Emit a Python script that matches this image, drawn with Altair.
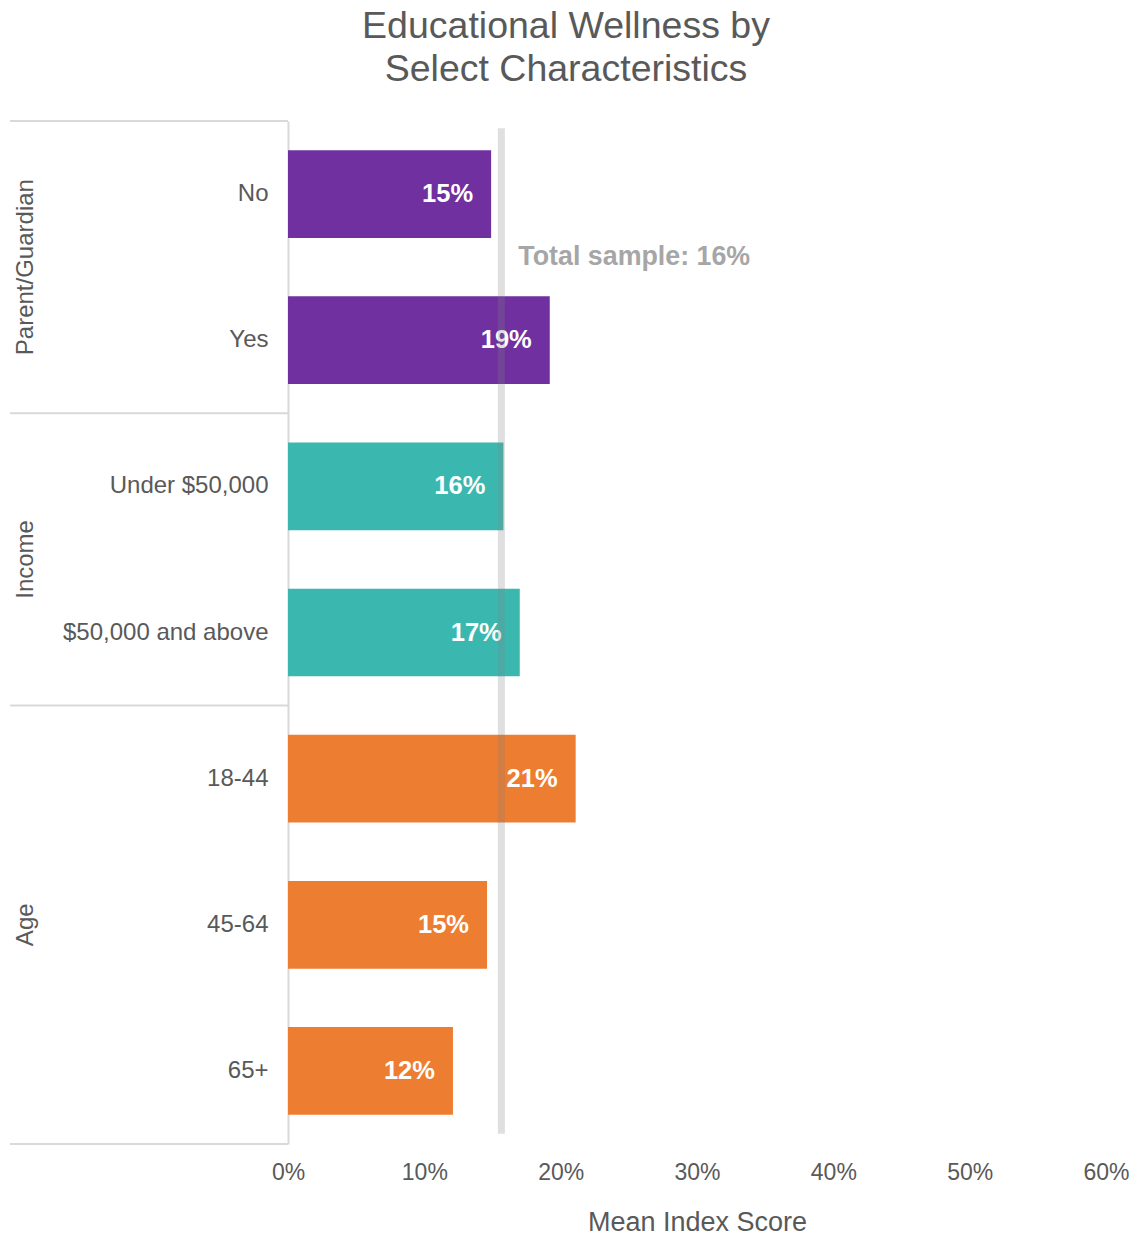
import altair as alt
import pandas as pd

categories = ["No", "Yes", "Under $50,000", "$50,000 and above", "18-44", "45-64", "65+"]
values = [14.9, 19.2, 15.8, 17.0, 21.1, 14.6, 12.1]
groups = ["Parent/Guardian", "Parent/Guardian", "Income", "Income", "Age", "Age", "Age"]
value_labels = ["15%", "19%", "16%", "17%", "21%", "15%", "12%"]

group_names = ["Parent/Guardian", "Income", "Age"]
group_colors = ["#7030A0", "#3AB8B0", "#ED7D31"]
group_centers = [1.0, 3.0, 5.5]          # in units of category slots
separators = [0, 2, 4, 7]                 # slot boundaries between groups

total_value = 15.65
total_label = "Total sample: 16%"
x_ticks = [0, 10, 20, 30, 40, 50, 60]

FONT = "Liberation Sans"
GREY = "#595959"

df = pd.DataFrame({"cat": categories, "value": values, "group": groups, "lab": value_labels})
df_groups = pd.DataFrame({"group": group_names, "pos": group_centers})
df_sep = pd.DataFrame({"pos": separators})
df_total = pd.DataFrame({"value": [total_value], "y0": [0.05], "y1": [6.93], "ty": [0.934], "lab": [total_label]})

x_enc = alt.X(
    "value:Q",
    scale=alt.Scale(domain=[0, 60]),
    axis=alt.Axis(
        values=x_ticks, labelExpr="datum.value + '%'", grid=False, domain=False,
        ticks=False, tickSize=0, labelPadding=17, labelFontSize=23, labelColor=GREY,
        labelFlush=False, labelFont=FONT,
        title="Mean Index Score", titleFontSize=27, titleColor=GREY,
        titleFontWeight="normal", titlePadding=25, titleFont=FONT,
    ),
)

y_band = alt.Y(
    "cat:N", sort=categories,
    scale=alt.Scale(paddingInner=0.4, paddingOuter=0.2),
    axis=alt.Axis(
        title=None, labelFontSize=24, labelColor=GREY, labelPadding=20,
        ticks=False, tickSize=0, domainColor="#d9d9d9", domainWidth=2,
        labelFont=FONT, labelLimit=400,
    ),
)

color_enc = alt.Color("group:N", scale=alt.Scale(domain=group_names, range=group_colors), legend=None)

yq = dict(scale=alt.Scale(domain=[0, 7], reverse=True, nice=False, zero=False), axis=None)

bars = alt.Chart(df).mark_bar().encode(x=x_enc, y=y_band, color=color_enc)

bar_text = alt.Chart(df).mark_text(
    align="right", baseline="middle", dx=-18, fontSize=25.5, fontWeight="bold",
    color="white", font=FONT,
).encode(x="value:Q", y=alt.Y("cat:N", sort=categories), text="lab:N")

line_layer = alt.Chart(df_total).mark_rule(color="#808080", opacity=0.25, strokeWidth=7).encode(
    x=alt.X("value:Q"),
    y=alt.Y("y0:Q", **yq),
    y2="y1:Q",
)

total_text = alt.Chart(df_total).mark_text(
    align="left", baseline="middle", dx=17, fontSize=26.8, fontWeight="bold",
    color="#a6a6a6", font=FONT,
).encode(x="value:Q", y=alt.Y("ty:Q", **yq), text="lab:N")

sep_rules = alt.Chart(df_sep).mark_rule(color="#d9d9d9", strokeWidth=2).encode(
    x=alt.value(-278), x2=alt.value(0),
    y=alt.Y("pos:Q", **yq),
)

group_text = alt.Chart(df_groups).mark_text(
    angle=270, align="center", baseline="middle", fontSize=24, color=GREY, font=FONT,
).encode(
    x=alt.value(-262),
    y=alt.Y("pos:Q", **yq),
    text="group:N",
)

band_layer = alt.layer(bars, bar_text)
quant_layer = alt.layer(sep_rules, group_text, line_layer, total_text)

chart = alt.layer(band_layer, quant_layer).resolve_scale(y="independent").properties(
    width=818, height=1023,
    autosize=alt.AutoSizeParams(type="none"),
    padding={"left": 280, "top": 113, "right": 23, "bottom": 87},
    title=alt.Title(
        ["Educational Wellness by", "Select Characteristics"],
        fontSize=37.5, lineHeight=43, color=GREY, fontWeight="normal",
        anchor="middle", frame="group", dx=-131, offset=32, font=FONT,
    ),
).configure(font=FONT).configure_view(stroke="transparent", strokeWidth=0)

chart.save("out.html", embed_options={"renderer": "svg", "actions": False})
